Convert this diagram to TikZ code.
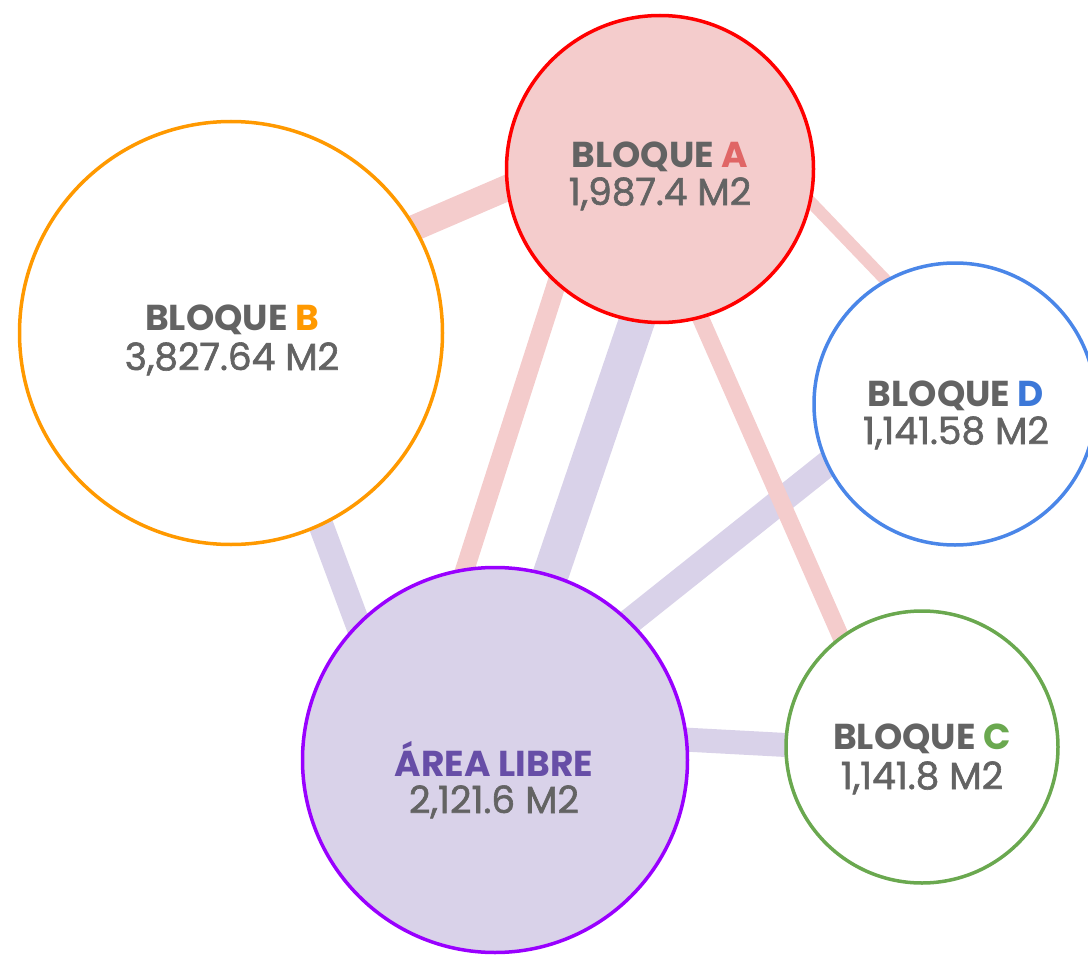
\documentclass[tikz,border=0pt]{standalone}
\usepackage{fontspec}
\setmainfont{Poppins}
\newfontfamily\numfont[FakeBold=1.6]{Poppins}
\usetikzlibrary{calc}
\definecolor{txtgrey}{HTML}{636363}
\definecolor{pinkfill}{HTML}{F4CCCC}
\definecolor{lavfill}{HTML}{D9D2E9}
\definecolor{aRed}{HTML}{FF0000}
\definecolor{aLetter}{HTML}{E06666}
\definecolor{bOrange}{HTML}{FF9900}
\definecolor{dBlue}{HTML}{4A86E8}
\definecolor{dLetter}{HTML}{3C78D8}
\definecolor{cGreen}{HTML}{6AA84F}
\definecolor{lPurple}{HTML}{9900FF}
\definecolor{lLetter}{HTML}{674EA7}
\begin{document}
\begin{tikzpicture}[x=1pt,y=-1pt,
  bubble/.style={circle,draw,line width=3.5pt,inner sep=0pt,outer sep=0pt},
  pinkline/.style={draw=pinkfill,line cap=butt},
  lavline/.style={draw=lavfill,line cap=butt},
  lab/.style={align=center,text=txtgrey,font=\fontsize{36}{39}\selectfont,inner sep=0pt,anchor=base},
  num/.style={lab,font=\numfont\fontsize{37.5}{40}\selectfont}
]
\useasboundingbox (0,0) rectangle (1088,958);
\clip (0,0) rectangle (1088,958);
% circle centres
\coordinate (A) at (660,169);
\coordinate (B) at (231,333);
\coordinate (C) at (922,747);
\coordinate (D) at (955,404);
\coordinate (L) at (495,760);
% lavender connectors
\draw[lavline,line width=36pt] ($(A)+(1,81)$) -- ($(L)+(30,-110)$);
\draw[lavline,line width=26pt] ($(D)+(-55,2)$) -- ($(L)+(105,-115)$);
\draw[lavline,line width=25pt] ($(B)+(62,117)$) -- ($(L)+(-109,-60)$);
\draw[lavline,line width=24pt] ($(C)+(-52,2.5)$) -- ($(L)+(105,-25)$);
% pink connectors
\draw[pinkline,line width=26pt] ($(A)+(-60,-21)$) -- ($(B)+(69,-56)$);
\draw[pinkline,line width=12pt] ($(A)+(120,1)$) -- ($(D)+(-35,-88)$);
\draw[pinkline,line width=17pt] ($(A)+(0,57)$) -- ($(C)+(-60,-62)$);
\draw[pinkline,line width=19pt] ($(A)+(-83,51)$) -- ($(L)+(-56,-110)$);
% bubbles
\node[bubble,draw=aRed,fill=pinkfill,minimum size=307pt] (nA) at (A) {};
\node[bubble,draw=bOrange,fill=white,minimum size=423pt] (nB) at (B) {};
\node[bubble,draw=dBlue,fill=white,minimum size=282pt] (nD) at (D) {};
\node[bubble,draw=cGreen,fill=white,minimum size=272pt] (nC) at (C) {};
\node[bubble,draw=lPurple,fill=lavfill,minimum size=385pt] (nL) at (L) {};
% labels
\node[lab] (tA1) at (660,167) {\bfseries BLOQUE \textcolor{aLetter}{A}};
\node[num] (tA2) at (660,205) {1,987.4 M2};
\node[lab] (tB1) at (232,330) {\bfseries BLOQUE \textcolor{bOrange}{B}};
\node[num] (tB2) at (232,370) {3,827.64 M2};
\node[lab] (tD1) at (956,406) {\bfseries BLOQUE \textcolor{dLetter}{D}};
\node[num] (tD2) at (956,444) {1,141.58 M2};
\node[lab] (tC1) at (922,749) {\bfseries BLOQUE \textcolor{cGreen}{C}};
\node[num] (tC2) at (922,789) {1,141.8 M2};
\node[lab,text=lLetter] (tL1) at (494,776) {\bfseries ÁREA LIBRE};
\node[num] (tL2) at (494,813) {2,121.6 M2};
\end{tikzpicture}
\end{document}
